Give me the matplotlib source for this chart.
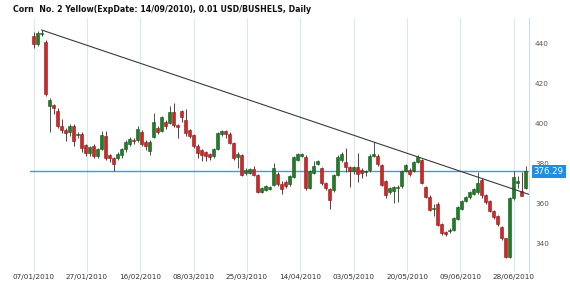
import numpy as np
import matplotlib
matplotlib.use("Agg")
import matplotlib.pyplot as plt

title = "Corn  No. 2 Yellow(ExpDate: 14/09/2010), 0.01 USD/BUSHELS, Daily"

opens = [444, 440, 445, 441, 409, 409.5, 406.5, 399, 397, 396, 399, 394.3, 395, 389.5, 385.5, 389, 384, 387.7, 394, 384.5, 383, 383, 384.5, 387.5, 390,
         392, 392, 396, 391, 386.5, 393.7, 398, 396.5, 401, 400.7, 406, 399, 406.7, 402, 397, 394.5, 389, 387, 386, 385, 384, 387.5, 394.8, 396.5, 395,
         390.3, 383.5, 384.5, 375.3, 375.7, 377.3, 374.5, 366.2, 367, 367.5, 369.5, 375, 370, 371, 370, 373.7, 382, 384, 383.7, 367.8, 375.7, 380, 377.8, 370.3, 367.5,
         367, 374.5, 382, 381, 378.3, 376.5, 378.3, 377, 376, 377, 384, 384, 379.5, 371.7, 366, 366.5, 368, 369, 376.5, 377, 376.5, 381, 382, 368.7, 363.7,
         357.5, 360, 350, 345.8, 346.5, 347, 352.3, 357.3, 361.7, 363.3, 365, 366, 372, 364.5, 361.5, 356.7, 354, 348.7, 342.8, 333.3, 362.8, 370.7, 366.7, 367.8]
closes = [440, 445.5, 445.5, 415, 412, 408, 399, 397, 395.5, 399, 391.7, 394.5, 388, 385.5, 388.5, 384, 387.5, 394.5, 383, 383, 380, 385, 387.5, 391, 392.5,
          391.5, 397.5, 390, 389, 391, 401, 396, 403.5, 399, 406, 399.5, 398.7, 403.3, 395.3, 394, 389, 385.7, 384.5, 384, 383.7, 387.5, 395.5, 396.5, 395, 390.5,
          382.8, 385, 374.5, 377, 377.3, 374.5, 366.2, 368, 369, 368.5, 378, 370, 367.5, 369, 374, 383.7, 385, 385, 367.8, 376.7, 379, 381.7, 370.3, 367.8, 362,
          374.5, 383.7, 385, 378.3, 376.5, 378.5, 375, 375.5, 376.2, 384, 385, 380, 369.5, 364.5, 368, 368.5, 368.3, 376.7, 379.7, 375, 381, 383.7, 370.5, 363.7, 357,
          357.8, 349.5, 345.3, 345.2, 347, 352.8, 358.7, 361.7, 363.3, 366, 367.5, 370.3, 364.5, 361, 356.7, 353.3, 350, 342.8, 333.7, 362.8, 373.7, 371, 364.2, 376.29]
highs = [446, 446.5, 447, 442, 413, 410, 408, 402.5, 398, 400, 400, 396, 396, 390, 389, 390, 388, 396.3, 396.5, 385, 383.5, 386, 388, 392, 393.5,
         393, 399, 397, 392, 392, 405.5, 399, 404, 402, 409, 410.5, 400, 407, 407.5, 397.5, 395, 390, 387.5, 386.5, 385.5, 388, 396, 397, 397, 396,
         391, 386, 385, 378, 378, 379, 375, 368.5, 369.5, 369, 380.6, 376, 371.5, 372, 374.5, 384, 385.5, 385.5, 384.5, 377, 381.7, 382, 378.5, 371, 368,
         375, 384.5, 386, 388, 379, 379, 385.7, 378, 377, 385, 391, 385, 380, 372, 368.5, 369, 369.5, 377, 380, 378, 381.5, 384.5, 382.5, 369, 364.5,
         360, 361, 350.5, 346.5, 348, 353.5, 359, 362, 364, 366.5, 368, 376.2, 373, 365, 362, 357, 354.5, 349, 343, 363.5, 376.5, 374, 376, 379]
lows = [438, 439, 444, 414, 396, 405, 398, 395.5, 391.5, 394, 389, 393, 386, 384, 384, 383, 383, 387, 382, 381, 376.5, 382, 383, 386, 389,
        390, 391, 389, 387, 384.5, 393, 395, 396, 397.5, 400, 398.5, 393, 401, 394, 393, 388, 383, 381.5, 381.5, 382, 383, 387, 394, 393, 390,
        382, 378, 374, 374.5, 375, 374, 365.5, 365.5, 366.5, 367, 369, 369, 365, 368, 369, 373, 381.5, 383.5, 367, 367.5, 375, 379.5, 369.5, 367, 357.5,
        366, 374, 381, 376, 368.5, 375, 371, 373, 374, 376, 383.5, 379, 369, 363, 365, 360.5, 361, 368, 376, 374, 376, 380.5, 370, 363, 356.5,
        354, 349, 344.5, 344, 345.5, 346.5, 352, 357, 361, 362.5, 364.5, 365, 363, 360, 356, 352.5, 349, 342, 333, 333, 362, 368, 364, 367.5]

tick_labels = ["07/01/2010", "27/01/2010", "16/02/2010", "08/03/2010", "25/03/2010",
               "14/04/2010", "03/05/2010", "20/05/2010", "09/06/2010", "28/06/2010"]
y_ticks = [340, 360, 380, 400, 420, 440]
trend_points = [2, 85]  # candles whose highs define the trendline

o = np.array(opens); c = np.array(closes); h = np.array(highs); l = np.array(lows)
n = len(o)
x = np.arange(n)
up = c >= o

fig = plt.figure(figsize=(5.70, 2.92), dpi=100)
ax = fig.add_axes([30/570, 20/292, (529.5-30)/570, (274-20)/292])
ax.set_xlim(-0.9, n - 0.05)
ax.set_ylim(326, 453)

# grid
tick_pos = np.linspace(0, n - 4, len(tick_labels))
for tp in tick_pos:
    ax.axvline(tp, color="#dbe6ee", lw=0.8, zorder=0)

red_face, red_edge = "#d02626", "#8a1a1a"
grn_face, grn_edge = "#1f7d26", "#135418"

ax.vlines(x, l, h, colors=np.where(up, "#3f5a3f", "#6a3434"), lw=0.7, zorder=2)
bottom = np.minimum(o, c)
height = np.maximum(np.abs(c - o), 0.6)
ax.bar(x[up], height[up], bottom=bottom[up], width=0.72, color=grn_face,
       edgecolor=grn_edge, lw=0.4, zorder=3)
ax.bar(x[~up], height[~up], bottom=bottom[~up], width=0.72, color=red_face,
       edgecolor=red_edge, lw=0.4, zorder=3)

# trendline through two highs
i0, i1 = trend_points
slope = (h[i1] - h[i0]) / (i1 - i0)
xe = n - 0.05
ax.plot([i0, xe], [h[i0], h[i0] + slope * (xe - i0)], color="#3a3a3a", lw=0.8, zorder=4)

# last price line
last = closes[-1]
ax.axhline(last, color="#3d9be0", lw=1.0, zorder=1.5)

ax.set_xticks(tick_pos)
ax.set_xticklabels(tick_labels, fontsize=5.2, color="#333333")
ax.set_yticks(y_ticks)
ax.yaxis.tick_right()
ax.tick_params(axis="y", labelsize=5.2, labelcolor="#555555", length=0, pad=4)
ax.tick_params(axis="x", length=0, pad=1.5)
for s in ["left", "top", "bottom"]:
    ax.spines[s].set_visible(False)
ax.spines["right"].set_color("#cfdde8")
ax.spines["right"].set_linewidth(0.8)

ax.annotate(f"{last:.2f}", xy=(1.0, last), xycoords=("axes fraction", "data"),
            xytext=(3, 0), textcoords="offset points", va="center", ha="left",
            fontsize=6.2, color="white", zorder=10, annotation_clip=False,
            bbox=dict(boxstyle="square,pad=0.25", fc="#1e8fe0", ec="none"))

fig.text(13/570, 1 - 10/292, title, fontsize=5.7, fontweight="bold",
         color="#111111", va="center", ha="left")

fig.savefig("out.png", dpi=100)
